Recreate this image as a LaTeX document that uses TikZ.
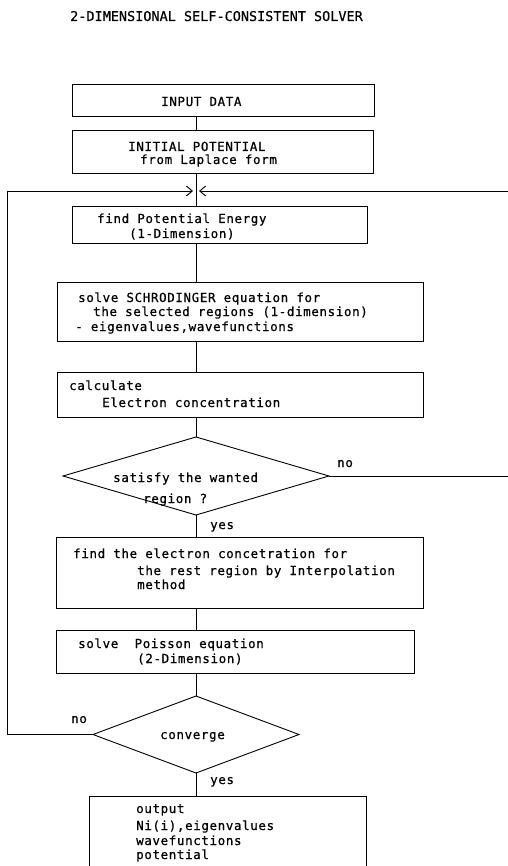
\documentclass[tikz,border=0pt]{standalone}
\usepackage{fontspec}
\newfontfamily\bodyfont[LetterSpace=5,FakeBold=0.6]{DejaVu Sans Mono}
\newfontfamily\titlefont[FakeBold=0.4]{DejaVu Sans Mono}
\usetikzlibrary{arrows.meta,shapes.geometric,calc}
\begin{document}
\begin{tikzpicture}[x=1pt,y=-1pt,
  box/.style={draw,line width=0.9pt,inner sep=0pt,outer sep=0pt},
  dia/.style={draw,diamond,line width=0.9pt,inner sep=0pt,outer sep=0pt},
  txt/.style={anchor=base west,inner sep=0pt,font=\bodyfont\fontsize{12.5pt}{14pt}\selectfont},
  conn/.style={line width=0.9pt},
  arr/.style={conn,-{Straight Barb[length=6pt,width=10pt,line width=0.9pt]}}]
\fill[white] (0,0) rectangle (507,866);
\useasboundingbox (0,0) rectangle (507,866);

% title
\node[txt,font=\titlefont\fontsize{13.5pt}{16pt}\selectfont] (title) at (70,21) {2-DIMENSIONAL SELF-CONSISTENT SOLVER};

% boxes
\node[box,minimum width=302pt,minimum height=32pt] (b1) at (223,100) {};
\node[box,minimum width=301pt,minimum height=43pt] (b2) at (222.5,151.5) {};
\node[box,minimum width=295pt,minimum height=37pt] (b3) at (219.5,224.5) {};
\node[box,minimum width=366pt,minimum height=59pt] (b4) at (240,311.5) {};
\node[box,minimum width=366pt,minimum height=45pt] (b5) at (240,394.5) {};
\node[dia,minimum width=266pt,minimum height=78pt] (d1) at (196,476) {};
\node[box,minimum width=367pt,minimum height=71pt] (b6) at (239.5,572.5) {};
\node[box,minimum width=358pt,minimum height=43pt] (b7) at (235,651.5) {};
\node[dia,minimum width=206pt,minimum height=77pt] (d2) at (196,734.5) {};
\node[box,minimum width=277pt,minimum height=84pt] (b8) at (227.5,838) {};

% texts
\node[txt] (t1) at (161,106) {INPUT DATA};
\node[txt] (t2a) at (128,151) {INITIAL POTENTIAL};
\node[txt] (t2b) at (140,164) {from Laplace form};
\node[txt] (t3a) at (97,223) {find Potential Energy};
\node[txt] (t3b) at (129,238) {(1-Dimension)};
\node[txt] (t4a) at (78,302) {solve SCHRODINGER equation for};
\node[txt] (t4b) at (93,316) {the selected regions (1-dimension)};
\node[txt] (t4c) at (75,331) {- eigenvalues,wavefunctions};
\node[txt] (t5a) at (69,390) {calculate};
\node[txt] (t5b) at (102,407) {Electron concentration};
\node[txt] (t6a) at (113,482) {satisfy the wanted};
\node[txt] (t6b) at (143,503) {region ?};
\node[txt] (no1) at (337,467) {no};
\node[txt] (yes1) at (210,529) {yes};
\node[txt] (t7a) at (73,558) {find the electron concetration for};
\node[txt] (t7b) at (137,575) {the rest region by Interpolation};
\node[txt] (t7c) at (137,589) {method};
\node[txt] (t8a) at (78,648) {solve\ \ Poisson equation};
\node[txt] (t8b) at (137,663) {(2-Dimension)};
\node[txt] (t9) at (160,739) {converge};
\node[txt] (no2) at (71,723) {no};
\node[txt] (yes2) at (210,784) {yes};
\node[txt] (t10a) at (136,813) {output};
\node[txt] (t10b) at (136,830) {Ni(i),eigenvalues};
\node[txt] (t10c) at (136,845) {wavefunctions};
\node[txt] (t10d) at (136,859) {potential};

% connectors
\coordinate (m) at (196,191);
\coordinate (lc) at (7,734.5);
\coordinate (lt) at (7,191);
\coordinate (rc) at (520,476);
\coordinate (rt) at (520,191);
\draw[conn] (b1.south -| m) -- (b2.north -| m);
\draw[conn] (b2.south -| m) -- (b3.north -| m);
\draw[conn] (b3.south -| m) -- (b4.north -| m);
\draw[conn] (b4.south -| m) -- (b5.north -| m);
\draw[conn] (b5.south -| m) -- (d1.north);
\draw[conn] (d1.south) -- (b6.north -| m);
\draw[conn] (b6.south -| m) -- (b7.north -| m);
\draw[conn] (b7.south -| m) -- (d2.north);
\draw[conn] (d2.south) -- (b8.north -| m);
\draw[arr] (d2.west) -- (lc) -- (lt) -- ($(m)+(-3,0)$);
\draw[arr] (d1.east) -- (rc) -- (rt) -- ($(m)+(3,0)$);
\end{tikzpicture}
\end{document}
